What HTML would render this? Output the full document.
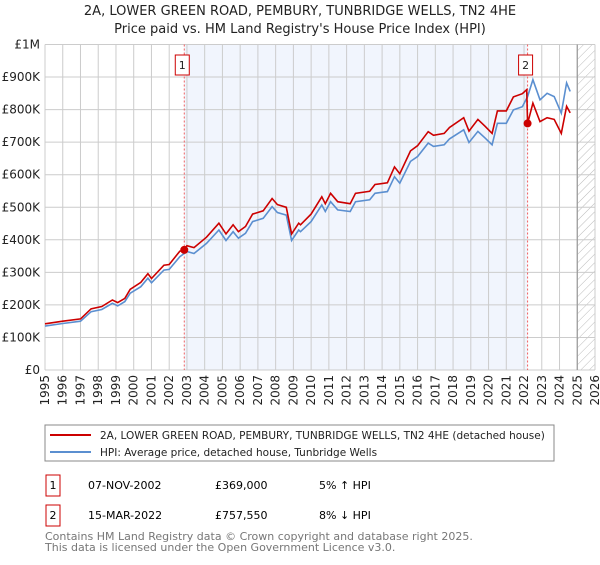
<!DOCTYPE html>
<html><head><meta charset="utf-8"><style>
body{margin:0;background:#fff;font-family:"Liberation Sans","DejaVu Sans",sans-serif;}
svg text{font-family:"DejaVu Sans","Liberation Sans",sans-serif;}
</style></head><body>
<svg id="chart" width="600" height="560" xmlns="http://www.w3.org/2000/svg">
<defs><pattern id="hatch" width="6" height="6" patternUnits="userSpaceOnUse" patternTransform="rotate(45)"><line x1="0" y1="0" x2="0" y2="6" stroke="#bbb" stroke-width="1"/></pattern></defs>
<text x="300" y="15" text-anchor="middle" font-size="13" fill="#222">2A, LOWER GREEN ROAD, PEMBURY, TUNBRIDGE WELLS, TN2 4HE</text>
<text x="300" y="33" text-anchor="middle" font-size="13" fill="#222">Price paid vs. HM Land Registry's House Price Index (HPI)</text>
<g id="plot"></g>
<rect x="45" y="425" width="509" height="36" fill="#fff" stroke="#888"/>
<line x1="50" y1="435" x2="91" y2="435" stroke="#cc0000" stroke-width="2"/>
<text x="100" y="439" font-size="10.5" fill="#222">2A, LOWER GREEN ROAD, PEMBURY, TUNBRIDGE WELLS, TN2 4HE (detached house)</text>
<line x1="50" y1="452" x2="91" y2="452" stroke="#5b8fd0" stroke-width="2"/>
<text x="100" y="456" font-size="10.5" fill="#222">HPI: Average price, detached house, Tunbridge Wells</text>
<g>
<rect x="46" y="475" width="14" height="21" fill="#fff" stroke="#cc0000"/><text x="53" y="489" text-anchor="middle" font-size="11">1</text>
<text x="88" y="489" font-size="11">07-NOV-2002</text><text x="215" y="489" font-size="11">£369,000</text><text x="319" y="489" font-size="11">5% ↑ HPI</text></g>
<g>
<rect x="46" y="505" width="14" height="21" fill="#fff" stroke="#cc0000"/><text x="53" y="519" text-anchor="middle" font-size="11">2</text>
<text x="88" y="519" font-size="11">15-MAR-2022</text><text x="215" y="519" font-size="11">£757,550</text><text x="319" y="519" font-size="11">8% ↓ HPI</text></g>
<text x="45" y="540" font-size="11" fill="#777">Contains HM Land Registry data © Crown copyright and database right 2025.</text>
<text x="45" y="551" font-size="11" fill="#777">This data is licensed under the Open Government Licence v3.0.</text>
</svg>
<script>
const hpiYears=[1995,1996,1997,1997.6,1998.2,1998.8,1999.1,1999.5,1999.8,2000.4,2000.8,2001,2001.7,2002,2002.6,2003,2003.4,2004.1,2004.8,2005.2,2005.6,2005.9,2006.3,2006.7,2007.3,2007.8,2008.1,2008.6,2008.9,2009.3,2009.4,2010,2010.6,2010.8,2011.1,2011.5,2012.2,2012.5,2013.3,2013.6,2014.3,2014.7,2015,2015.6,2016,2016.6,2016.9,2017.5,2017.8,2018.6,2018.9,2019.4,2019.8,2020.2,2020.5,2021,2021.4,2021.9,2022.2,2022.5,2022.9,2023.3,2023.7,2024.1,2024.4,2024.6];
const hpiValues=[135,143,150,179,186,205,197,210,236,256,282,268,307,309,348,364,358,389,430,398,425,405,420,456,466,502,484,476,398,430,425,456,507,487,517,492,487,517,523,543,548,594,574,641,656,697,687,692,710,738,699,733,713,692,758,758,799,809,840,892,830,850,840,789,882,856];
const propYears=[1995,1996,1997,1997.6,1998.2,1998.8,1999.1,1999.5,1999.8,2000.4,2000.8,2001,2001.7,2002,2002.6,2002.85,2003,2003.4,2004.1,2004.8,2005.2,2005.6,2005.9,2006.3,2006.7,2007.3,2007.8,2008.1,2008.6,2008.9,2009.3,2009.4,2010,2010.6,2010.8,2011.1,2011.5,2012.2,2012.5,2013.3,2013.6,2014.3,2014.7,2015,2015.6,2016,2016.6,2016.9,2017.5,2017.8,2018.6,2018.9,2019.4,2019.8,2020.2,2020.5,2021,2021.4,2021.9,2022.15,2022.2,2022.5,2022.9,2023.3,2023.7,2024.1,2024.4,2024.6];
const propValues=[142,150,157,188,195,215,207,220,248,269,296,281,322,324,365,369,382,376,408,451,418,446,425,441,479,489,527,508,500,418,451,446,479,532,511,543,517,511,543,549,570,575,624,603,673,689,732,721,727,745,775,734,770,749,727,796,796,839,849,861,757,820,763,775,770,727,810,790];
const yTicks=[0,100,200,300,400,500,600,700,800,900,1000];
const yTickLabels=["£0","£100K","£200K","£300K","£400K","£500K","£600K","£700K","£800K","£900K","£1M"];
const xTicks=[1995,1996,1997,1998,1999,2000,2001,2002,2003,2004,2005,2006,2007,2008,2009,2010,2011,2012,2013,2014,2015,2016,2017,2018,2019,2020,2021,2022,2023,2024,2025,2026];
const saleYears=[2002.85,2022.2];
const saleValues=[369,757.55];
const saleLabels=["1","2"];
const L=45,R=595,T=44.5,B=370,X0=1995,X1=2026;
const xs=v=>L+(v-X0)/(X1-X0)*(R-L);
const ys=v=>B-v/1000*(B-T);
const NS="http://www.w3.org/2000/svg";
const g=document.getElementById('plot');
function mk(tag,attrs,parent){const e=document.createElementNS(NS,tag);for(const k in attrs)e.setAttribute(k,attrs[k]);(parent||g).appendChild(e);return e;}
let r=mk('rect',{x:xs(saleYears[0]),y:T,width:xs(saleYears[1])-xs(saleYears[0]),height:B-T,fill:'#eef3fc',opacity:0.8});


let h=mk('rect',{x:xs(2025.0),y:T,width:R-xs(2025.0),height:B-T,fill:'url(#hatch)'});


yTicks.forEach((t,i)=>{
 let l=mk('line',{x1:L,x2:R,y1:ys(t),y2:ys(t),stroke:'#ccc','stroke-width':1});
 
 
 let tx=mk('text',{x:L-5,y:ys(t)+4,'text-anchor':'end','font-size':12,fill:'#222'});
 tx.textContent=yTickLabels[i];
 
 
});
xTicks.forEach(t=>{
 let l=mk('line',{x1:xs(t),x2:xs(t),y1:T,y2:B,stroke:'#ccc','stroke-width':1});
 
 
 let tx=mk('text',{x:0,y:0,'text-anchor':'end','font-size':12,fill:'#222',transform:`translate(${xs(t)+4},${B+5}) rotate(-90)`});
 tx.textContent=t;
 
 
});
let vl=mk('line',{x1:xs(2025.0),x2:xs(2025.0),y1:T,y2:B,stroke:'#999','stroke-width':1.2});


saleYears.forEach((s,i)=>{
 let l=mk('line',{x1:xs(s),x2:xs(s),y1:T,y2:B,stroke:'#f06060','stroke-width':1,'stroke-dasharray':'2,2'});
 
 
});
const pts=(xa,va)=>xa.map((x,i)=>xs(x).toFixed(1)+','+ys(va[i]).toFixed(1)).join(' ');
let hp=mk('polyline',{points:pts(hpiYears,hpiValues),fill:'none',stroke:'#5b8fd0','stroke-width':1.6});


let pp=mk('polyline',{points:pts(propYears,propValues),fill:'none',stroke:'#cc0000','stroke-width':1.6});


saleYears.forEach((s,i)=>{
 let c=mk('circle',{cx:xs(s),cy:ys(saleValues[i]),r:4,fill:'#cc0000'});
 
 
 let b=mk('rect',{x:xs(s)-9,y:55,width:14,height:20,fill:'#fff',stroke:'#cc0000'});
 
 
 let t=mk('text',{x:xs(s)-2,y:69,'text-anchor':'middle','font-size':11,fill:'#222'});
 t.textContent=saleLabels[i];
 
 
});
</script>
</body></html>
